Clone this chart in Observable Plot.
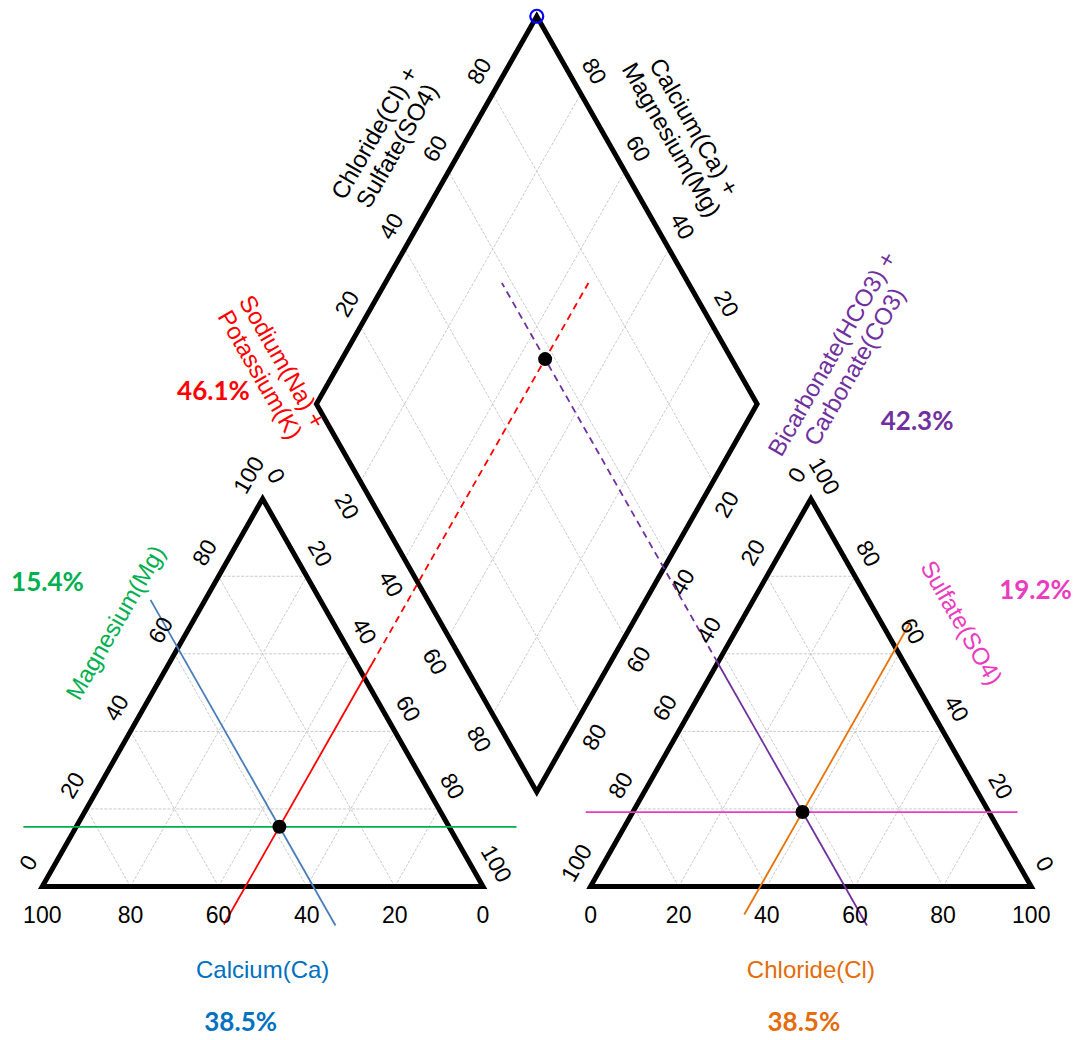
<!DOCTYPE html>
<html>
<head>
<meta charset="utf-8">
<script src="https://cdn.jsdelivr.net/npm/d3@7"></script>
<script src="https://cdn.jsdelivr.net/npm/@observablehq/plot@0.6"></script>
<style>
  html, body { margin: 0; padding: 0; background: #fff; }
</style>
</head>
<body>
<div id="chart"></div>
<script>
// ---------------- data ----------------
const cationNames = ["Calcium(Ca)", "Magnesium(Mg)", "Sodium(Na) +\nPotassium(K)"];
const cationValues = [38.5, 15.4, 46.1];           // Ca, Mg, Na+K (%)
const anionNames = ["Chloride(Cl)", "Sulfate(SO4)", "Bicarbonate(HCO3) +\nCarbonate(CO3)"];
const anionValues = [38.5, 19.2, 42.3];            // Cl, SO4, HCO3+CO3 (%)
const diamondNames = ["Chloride(Cl) +\nSulfate(SO4)", "Calcium(Ca) +\nMagnesium(Mg)"];
const triangleTicks = [0, 20, 40, 60, 80, 100];
const diamondTicks = [20, 40, 60, 80];
const gridValues = [20, 40, 60, 80];

// ---------------- colours ----------------
const C = {
  ca: "#0070C0", caLine: "#4A7EBB",
  mg: "#00B050",
  na: "#FF0000",
  cl: "#E46C0A", clLine: "#E8730C",
  so4: "#EA3CC0",
  hco3: "#7030A0"
};

// ---------------- geometry (ternary units, side = 100) ----------------
const SQ3 = Math.sqrt(3);
const H = 50 * SQ3;
const GAP = 24.4;
const X2 = 100 + GAP;
const BX = 100 + GAP / 2, BY = GAP / 2 * SQ3;
const cat = (ca, mg, na) => [na + mg / 2, H * mg / 100];
const ani = (cl, so4, hco3) => [X2 + cl + so4 / 2, H * so4 / 100];
const dia = (a, b) => [BX + (a - b) / 2, BY + H * (a + b) / 100];

const [ca, mg, na] = cationValues;
const [cl, so4, hco3] = anionValues;
const catPt = cat(ca, mg, na);
const aniPt = ani(cl, so4, hco3);
const diaPt = dia(cl + so4, ca + mg);

// grid segments
const grid = [];
for (const v of gridValues) {
  const w = 100 - v;
  grid.push([cat(w, v, 0), cat(0, v, w)]);
  grid.push([cat(v, 0, w), cat(v, w, 0)]);
  grid.push([cat(w, 0, v), cat(0, w, v)]);
  grid.push([ani(0, v, w), ani(w, v, 0)]);
  grid.push([ani(v, 0, w), ani(v, w, 0)]);
  grid.push([ani(w, 0, v), ani(0, w, v)]);
  grid.push([dia(v, 0), dia(v, 100)]);
  grid.push([dia(0, v), dia(100, v)]);
}

// outlines (start at an edge midpoint so every corner is joined)
const mid = (p, q) => [(p[0] + q[0]) / 2, (p[1] + q[1]) / 2];
function ring(vs, id) {
  const m = mid(vs[0], vs[vs.length - 1]);
  return [m, ...vs, m].map(p => ({x: p[0], y: p[1], id}));
}
const outlines = [
  ...ring([cat(0, 0, 100), cat(0, 100, 0), cat(100, 0, 0)], "cat"),
  ...ring([ani(100, 0, 0), ani(0, 100, 0), ani(0, 0, 100)], "ani"),
  ...ring([dia(100, 0), dia(100, 100), dia(0, 100), dia(0, 0)], "dia")
];

// guide lines through the sample
const upRight = (x0, y) => x0 + y / SQ3;    // parallel to the left edges
const upLeft = (x0, y) => x0 - y / SQ3;     // parallel to the right edges
const seg = (f, x0, y1, y2) => ({x1: f(x0, y1), y1, x2: f(x0, y2), y2});
const guides = [
  {...{x1: cat(100 - mg, mg, 0)[0] - 12, y1: catPt[1], x2: cat(0, mg, 100 - mg)[0] + 15.3, y2: catPt[1]}, c: C.mg, dash: null},
  {...seg(upLeft, 100 - ca, -8.7, 64), c: C.caLine, dash: null},
  {...seg(upRight, na, -8.5, H * (100 - na) / 100 + 3), c: C.na, dash: null},
  {...seg(upRight, na, H * (100 - na) / 100 + 3, diaPt[1] + 17), c: C.na, dash: "7,5"},
  {...{x1: ani(0, so4, 100 - so4)[0] - 10.7, y1: aniPt[1], x2: ani(100 - so4, so4, 0)[0] + 6.5, y2: aniPt[1]}, c: C.so4, dash: null},
  {...seg(upRight, X2 + cl, -6.25, 59), c: C.clLine, dash: null},
  {...seg(upLeft, X2 + 100 - hco3, -8.7, H * (100 - hco3) / 100), c: C.hco3, dash: null},
  {...seg(upLeft, X2 + 100 - hco3, H * (100 - hco3) / 100, diaPt[1] + 17), c: C.hco3, dash: "7,5"}
];

// tick labels
const tk = (vals, f) => vals.map(v => ({p: f(v), t: String(v)}));
const tickSets = [
  {d: tk(triangleTicks, v => cat(100 - v, v, 0)), dx: -13.5, dy: -23.4, r: -60},
  {d: tk(triangleTicks, v => cat(0, 100 - v, v)), dx: 13, dy: -22.5, r: 60},
  {d: tk(triangleTicks, v => cat(v, 0, 100 - v)), dx: 0, dy: 29, r: 0},
  {d: tk(triangleTicks, v => ani(0, 100 - v, v)), dx: -13.5, dy: -23.4, r: -60},
  {d: tk(triangleTicks, v => ani(100 - v, v, 0)), dx: 13, dy: -22.5, r: 60},
  {d: tk(triangleTicks, v => ani(v, 0, 100 - v)), dx: 0, dy: 29, r: 0},
  {d: tk(diamondTicks, v => dia(v, 100)), dx: -13, dy: -22.5, r: -60},
  {d: tk(diamondTicks, v => dia(100, v)), dx: 13, dy: -22.5, r: 60},
  {d: tk(diamondTicks, v => dia(0, 100 - v)), dx: -14, dy: 25, r: 60},
  {d: tk(diamondTicks, v => dia(100 - v, 0)), dx: 14, dy: 23, r: -60}
];

const pct = v => `${v.toFixed(1)}%`;
const titles = [
  {p: cat(50, 0, 50), text: cationNames[0], fill: C.ca, dx: 0, dy: 83, r: 0},
  {p: cat(50, 50, 0), text: cationNames[1], fill: C.mg, dx: -37, dy: -70, r: -60},
  {p: dia(0, 100), text: cationNames[2], fill: C.na, dx: -45, dy: -36, r: 60},
  {p: ani(50, 0, 50), text: anionNames[0], fill: C.cl, dx: 0, dy: 83, r: 0},
  {p: ani(50, 50, 0), text: anionNames[1], fill: C.so4, dx: 40.5, dy: -70, r: 60},
  {p: dia(100, 0), text: anionNames[2], fill: C.hco3, dx: 86, dy: -44, r: -60},
  {p: dia(50, 100), text: diamondNames[0], fill: "black", dx: -41, dy: -71, r: -60},
  {p: dia(100, 50), text: diamondNames[1], fill: "black", dx: 36, dy: -77, r: 60}
];
const percents = [
  {p: cat(50, 0, 50), text: pct(ca), fill: C.ca, dx: -22, dy: 136},
  {p: cat(50, 50, 0), text: pct(mg), fill: C.mg, dx: -105, dy: -110},
  {p: dia(0, 100), text: pct(na), fill: C.na, dx: -103, dy: -12},
  {p: ani(50, 0, 50), text: pct(cl), fill: C.cl, dx: -7, dy: 136},
  {p: ani(50, 50, 0), text: pct(so4), fill: C.so4, dx: 114.5, dy: -102},
  {p: dia(100, 0), text: pct(hco3), fill: C.hco3, dx: 160, dy: 18}
];

const FONT = "'Liberation Sans', Arial, sans-serif";
const marks = [
  Plot.link(grid, {
    x1: d => d[0][0], y1: d => d[0][1], x2: d => d[1][0], y2: d => d[1][1],
    stroke: "#c4c4c4", strokeWidth: 0.9, strokeDasharray: "3,1.5"
  }),
  Plot.line(outlines, {x: "x", y: "y", z: "id", stroke: "black", strokeWidth: 5,
    strokeLinejoin: "miter", strokeMiterlimit: 10}),
  ...guides.map(g => Plot.link([g], {x1: "x1", y1: "y1", x2: "x2", y2: "y2",
    stroke: g.c, strokeWidth: 1.8, strokeDasharray: g.dash ?? undefined})),
  Plot.dot([catPt, aniPt, diaPt], {x: d => d[0], y: d => d[1], r: 7, fill: "black", stroke: "none"}),
  Plot.dot([dia(100, 100)], {x: d => d[0], y: d => d[1], r: 6.5, fill: "none", stroke: "#0000FF", strokeWidth: 2.2}),
  ...tickSets.map(s => Plot.text(s.d, {x: d => d.p[0], y: d => d.p[1], text: "t",
    dx: s.dx, dy: s.dy, rotate: s.r, fontSize: 23, fill: "black", fontFamily: FONT})),
  ...titles.map(t => Plot.text([t], {x: d => d.p[0], y: d => d.p[1], text: "text",
    dx: t.dx, dy: t.dy, rotate: t.r, fill: t.fill, fontSize: 24, lineHeight: 1.08, fontFamily: FONT})),
  ...percents.map(t => Plot.text([t], {x: d => d.p[0], y: d => d.p[1], text: "text",
    dx: t.dx, dy: t.dy, fill: t.fill, fontSize: 26, fontWeight: "bold", fontFamily: "Lato, 'Open Sans', sans-serif"}))
];

const chart = Plot.plot({
  width: 1078,
  height: 1040,
  x: {domain: [0, 100], range: [41.8, 482.5], axis: null},
  y: {domain: [0, 100], range: [886, 438.2], axis: null},
  style: {background: "white", fontFamily: FONT, overflow: "visible"},
  marks
});
document.getElementById("chart").appendChild(chart);
</script>
</body>
</html>
